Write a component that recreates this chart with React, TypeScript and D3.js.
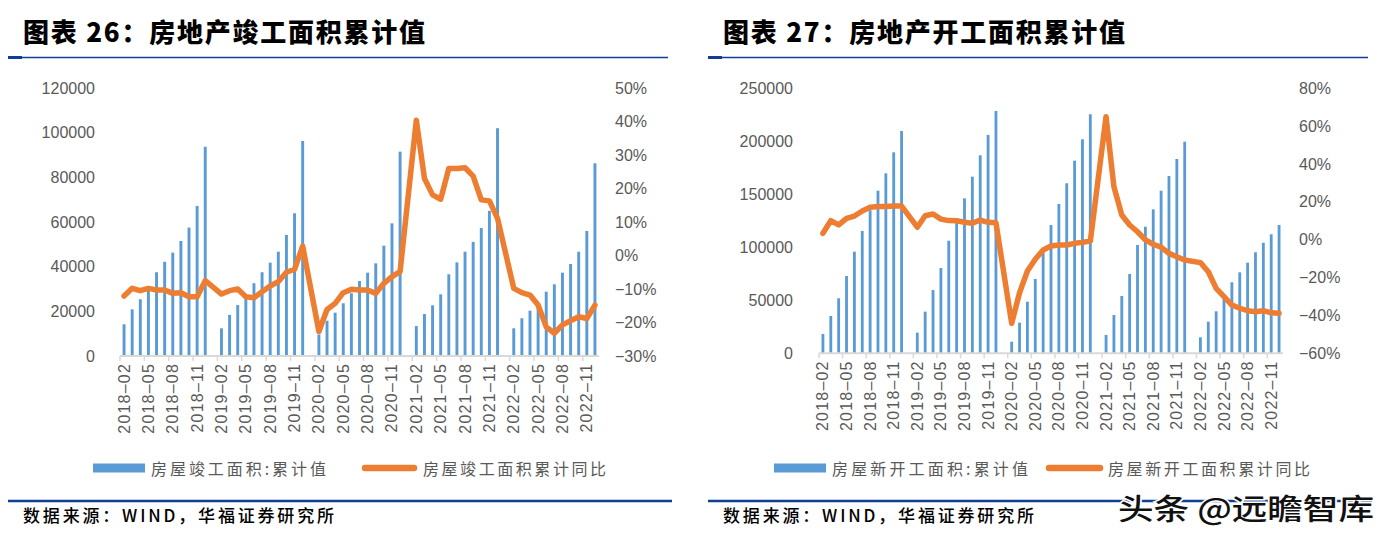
import React from 'react';
import * as d3 from 'd3';

// ---------- categories ----------
const YEARS = ['2018', '2019', '2020', '2021', '2022'];
const MONTHS = ['01', '02', '03', '04', '05', '06', '07', '08', '09', '10', '11', '12'];

// ---------- chart 26: completed floor area (Feb–Dec of each year, Jan is empty) ----------
const completed2018 = [14200, 20900, 25400, 29500, 37500, 42200, 46300, 51500, 57500, 67200, 93700];
const completed2019 = [12400, 18400, 22800, 25900, 32600, 37500, 41800, 46700, 54200, 63900, 96300];
const completed2020 = [9600, 15800, 19400, 23600, 28100, 33600, 37300, 41500, 49400, 59400, 91500];
const completed2021 = [13400, 18800, 22700, 27600, 36600, 41900, 46700, 51100, 57300, 65000, 102000];
const completed2022 = [12400, 16900, 20300, 23700, 28800, 32100, 37300, 41200, 46700, 56000, 86300];

const completedYoy2018 = [-12.1, -9.8, -10.5, -9.8, -10.3, -10.3, -11.3, -11.1, -12.3, -12.3, -7.5];
const completedYoy2019 = [-11.5, -10.5, -10.0, -12.3, -12.6, -10.8, -9.1, -7.8, -5.0, -4.1, 2.8];
const completedYoy2020 = [-22.7, -16.1, -14.3, -11.1, -10.1, -10.3, -10.3, -11.3, -8.3, -6.3, -4.8];
const completedYoy2021 = [40.4, 23.0, 18.1, 16.8, 26.0, 26.0, 26.2, 23.7, 16.6, 16.3, 11.1];
const completedYoy2022 = [-9.8, -11.1, -11.8, -14.8, -21.3, -23.2, -20.7, -19.5, -18.3, -18.8, -14.8];

// ---------- chart 27: new construction floor area ----------
const started2018 = [18200, 35200, 51900, 72900, 95900, 115400, 135000, 153400, 169800, 189600, 209700];
const started2019 = [19500, 39300, 59700, 80500, 106200, 124000, 146200, 166600, 186800, 206000, 228600];
const started2020 = [10900, 28900, 48700, 70100, 97500, 121000, 140900, 160400, 181700, 201900, 225500];
const started2021 = [17300, 36100, 54100, 74800, 102200, 119400, 135800, 153400, 167300, 183300, 199600];
const started2022 = [15100, 29800, 39600, 51600, 67000, 76400, 85500, 95300, 104300, 112300, 121000];

const startedYoy2018 = [3.4, 10.1, 7.8, 11.3, 12.5, 15.2, 17.1, 17.5, 17.5, 17.8, 17.8];
const startedYoy2019 = [6.6, 12.7, 13.6, 10.9, 10.1, 10.0, 9.2, 8.7, 10.4, 9.2, 9.0];
const startedYoy2020 = [-44.2, -28.0, -16.5, -10.3, -5.4, -3.3, -2.8, -2.8, -1.9, -1.4, -0.7];
const startedYoy2021 = [65.0, 28.0, 13.1, 7.8, 4.2, -0.1, -2.4, -4.0, -7.2, -9.0, -10.7];
const startedYoy2022 = [-12.1, -16.9, -25.7, -30.1, -34.5, -36.2, -37.5, -38.0, -37.5, -38.6, -38.9];

// ---------- axis ticks ----------
const leftTicks26 = [0, 20000, 40000, 60000, 80000, 100000, 120000];
const rightTicks26 = [-30, -20, -10, 0, 10, 20, 30, 40, 50];
const leftTicks27 = [0, 50000, 100000, 150000, 200000, 250000];
const rightTicks27 = [-60, -40, -20, 0, 20, 40, 60, 80];

const categories: string[] = [];
YEARS.forEach((y, yi) =>
  MONTHS.forEach((m) => {
    if (yi === 0 && m === '01') return;
    categories.push(`${y}-${m}`);
  })
);
const tickLabels = categories.filter((_, i) => i % 3 === 0);

function expand(years: number[][]): (number | null)[] {
  const out: (number | null)[] = [];
  years.forEach((vals, yi) => {
    if (yi > 0) out.push(null);
    vals.forEach((v) => out.push(v));
  });
  return out;
}

const BLUE = '#5B9BD5';
const ORANGE = '#ED7D31';
const GRAY_TEXT = '#595959';
const AXIS = '#D9D9D9';
const NAVY = '#0F3E92';
const NUM_FONT = '"Liberation Sans", Arial, sans-serif';
const CJK_FONT = '"Noto Sans CJK SC", "Noto Sans", sans-serif';

type PanelProps = {
  left: number;
  x0: number;
  x1: number;
  y0: number;
  y1: number;
  leftTicks: number[];
  rightTicks: number[];
  bars: (number | null)[];
  line: (number | null)[];
  leftLabelX: number;
  rightLabelX: number;
  title: string;
  barLegend: string;
  lineLegend: string;
  legend: { bx0: number; bx1: number; bt: number; lx0: number; lx1: number; lt: number; bw: number; lw: number };
};

function Panel(p: PanelProps) {
  const x = d3.scaleBand<string>().domain(categories).range([p.x0, p.x1]);
  const step = x.bandwidth();
  const barW = step * 0.36;
  const yL = d3
    .scaleLinear()
    .domain([p.leftTicks[0], p.leftTicks[p.leftTicks.length - 1]])
    .range([p.y1, p.y0]);
  const yR = d3
    .scaleLinear()
    .domain([p.rightTicks[0], p.rightTicks[p.rightTicks.length - 1]])
    .range([p.y1, p.y0]);
  const pts = categories
    .map((c, i) => ({ c, v: p.line[i] }))
    .filter((d) => d.v !== null) as { c: string; v: number }[];
  const lineGen = d3
    .line<{ c: string; v: number }>()
    .x((d) => (x(d.c) as number) + step / 2)
    .y((d) => yR(d.v))
    .curve(d3.curveLinear);
  const fmtPct = (v: number) => (v < 0 ? '\u2212' + Math.abs(v) : String(v)) + '%';
  const L = p.legend;
  const legY = 468;
  return (
    <g>
      {/* title */}
      <text
        x={p.left + 15}
        y={42}
        fontFamily={CJK_FONT}
        fontWeight={900}
        fontSize={26}
        fill="#000"
        textLength={402}
        lengthAdjust="spacing"
      >
        {p.title}
      </text>
      <line x1={p.left} x2={p.left + 660} y1={57.5} y2={57.5} stroke={NAVY} strokeWidth={1.3} />
      <rect x={p.left} y={56} width={14} height={3} fill={NAVY} />

      {/* bars */}
      {categories.map((c, i) => {
        const v = p.bars[i];
        if (v === null) return null;
        return (
          <rect
            key={c}
            x={(x(c) as number) + (step - barW) / 2}
            y={yL(v)}
            width={barW}
            height={yL(0) - yL(v)}
            fill={BLUE}
          />
        );
      })}

      {/* axis */}
      <line x1={p.x0} x2={p.x1} y1={p.y1} y2={p.y1} stroke={AXIS} strokeWidth={2} />
      {categories.map((c, i) =>
        i % 3 === 0 ? (
          <line key={'t' + c} x1={x(c) as number} x2={x(c) as number} y1={p.y1} y2={p.y1 + 5} stroke={AXIS} strokeWidth={1.5} />
        ) : null
      )}
      {tickLabels.map((c) => {
        const cx = (x(c) as number) + step / 2;
        const cy = p.y1 + 7;
        return (
          <text
            key={'l' + c}
            transform={`translate(${cx},${cy}) rotate(-90)`}
            textAnchor="end"
            dominantBaseline="central"
            fontFamily={NUM_FONT}
            fontSize={16}
            letterSpacing={1.2}
            fill={GRAY_TEXT}
          >
            {c.replace('-', '\u2013')}
          </text>
        );
      })}

      {/* left axis labels */}
      {p.leftTicks.map((t) => (
        <text
          key={'yl' + t}
          x={p.leftLabelX}
          y={yL(t)}
          textAnchor="end"
          dominantBaseline="central"
          fontFamily={NUM_FONT}
          fontSize={16}
          fill={GRAY_TEXT}
        >
          {t}
        </text>
      ))}
      {/* right axis labels */}
      {p.rightTicks.map((t) => (
        <text
          key={'yr' + t}
          x={p.rightLabelX}
          y={yR(t)}
          textAnchor="start"
          dominantBaseline="central"
          fontFamily={NUM_FONT}
          fontSize={16}
          fill={GRAY_TEXT}
        >
          {fmtPct(t)}
        </text>
      ))}

      {/* line */}
      <path d={lineGen(pts) as string} fill="none" stroke={ORANGE} strokeWidth={5.5} strokeLinejoin="round" strokeLinecap="round" />

      {/* legend */}
      <rect x={L.bx0} y={legY - 4.5} width={L.bx1 - L.bx0} height={9} fill={BLUE} />
      <text
        x={L.bt}
        y={legY}
        dominantBaseline="central"
        fontFamily={CJK_FONT}
        fontSize={16}
        fill={GRAY_TEXT}
        textLength={L.bw}
        lengthAdjust="spacing"
      >
        {p.barLegend}
      </text>
      <line x1={L.lx0 + 3} x2={L.lx1 - 3} y1={legY} y2={legY} stroke={ORANGE} strokeWidth={6.5} strokeLinecap="round" />
      <text
        x={L.lt}
        y={legY}
        dominantBaseline="central"
        fontFamily={CJK_FONT}
        fontSize={16}
        fill={GRAY_TEXT}
        textLength={L.lw}
        lengthAdjust="spacing"
      >
        {p.lineLegend}
      </text>

      {/* footer */}
      <line x1={p.left} x2={p.left + 664} y1={501} y2={501} stroke={NAVY} strokeWidth={2.5} />
      <text
        x={p.left + 15}
        y={522}
        fontFamily={CJK_FONT}
        fontSize={17}
        fontWeight={500}
        fill="#000"
        textLength={311}
        lengthAdjust="spacing"
      >
        数据来源：WIND，华福证券研究所
      </text>
    </g>
  );
}

export default function App() {
  const bars26 = expand([completed2018, completed2019, completed2020, completed2021, completed2022]);
  const line26 = expand([completedYoy2018, completedYoy2019, completedYoy2020, completedYoy2021, completedYoy2022]);
  const bars27 = expand([started2018, started2019, started2020, started2021, started2022]);
  const line27 = expand([startedYoy2018, startedYoy2019, startedYoy2020, startedYoy2021, startedYoy2022]);
  return (
    <svg
      width={1389}
      height={545}
      style={{ position: 'absolute', left: 0, top: 0, background: '#fff' }}
    >
      <rect x={0} y={0} width={1389} height={545} fill="#fff" />
      <Panel
        left={8}
        x0={120}
        x1={599}
        y0={88}
        y1={356}
        leftTicks={leftTicks26}
        rightTicks={rightTicks26}
        bars={bars26}
        line={line26}
        leftLabelX={95}
        rightLabelX={615}
        title="图表 26：房地产竣工面积累计值"
        barLegend="房屋竣工面积:累计值"
        lineLegend="房屋竣工面积累计同比"
        legend={{ bx0: 93, bx1: 145, bt: 151, bw: 175, lx0: 362, lx1: 417, lt: 423, lw: 183 }}
      />
      <Panel
        left={708}
        x0={819}
        x1={1283}
        y0={88.3}
        y1={353.3}
        leftTicks={leftTicks27}
        rightTicks={rightTicks27}
        bars={bars27}
        line={line27}
        leftLabelX={793}
        rightLabelX={1299}
        title="图表 27：房地产开工面积累计值"
        barLegend="房屋新开工面积:累计值"
        lineLegend="房屋新开工面积累计同比"
        legend={{ bx0: 774, bx1: 826, bt: 832, bw: 196, lx0: 1046, lx1: 1103, lt: 1108, lw: 202 }}
      />
      {/* watermark */}
      <text
        x={1118}
        y={520}
        fontFamily={CJK_FONT}
        fontSize={29}
        fontWeight={500}
        fill="#111"
        stroke="#fff"
        strokeWidth={3}
        paintOrder="stroke"
        textLength={256}
        lengthAdjust="spacingAndGlyphs"
      >
        头条 @远瞻智库
      </text>
    </svg>
  );
}
